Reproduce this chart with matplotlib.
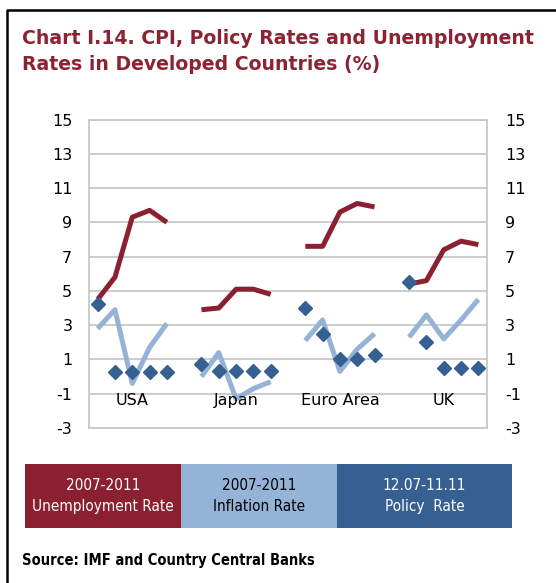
import numpy as np
import matplotlib.pyplot as plt
from matplotlib.patches import Rectangle
from matplotlib.lines import Line2D

plt.rcParams['axes.unicode_minus'] = False

# values, 5 points per country
countries = ['USA', 'Japan', 'Euro Area', 'UK']
unemployment = [
    [4.5, 5.8, 9.3, 9.7, 9.0],    # USA
    [3.9, 4.0, 5.1, 5.1, 4.8],    # Japan
    [7.6, 7.6, 9.6, 10.1, 9.9],   # Euro Area
    [5.4, 5.6, 7.4, 7.9, 7.7],    # UK
]
inflation = [
    [2.8, 3.9, -0.4, 1.7, 3.1],
    [0.0, 1.4, -1.3, -0.7, -0.3],
    [2.1, 3.3, 0.3, 1.6, 2.5],
    [2.3, 3.6, 2.2, 3.3, 4.5],
]
policy = [
    [4.25, 0.25, 0.25, 0.25, 0.25],
    [0.75, 0.3, 0.3, 0.3, 0.3],
    [4.0, 2.5, 1.0, 1.0, 1.25],
    [5.5, 2.0, 0.5, 0.5, 0.5],
]
yticks = [15, 13, 11, 9, 7, 5, 3, 1, -1, -3]
legend_labels = ['2007-2011\nUnemployment Rate', '2007-2011\nInflation Rate', '12.07-11.11\nPolicy  Rate']

red = '#8B2130'
light = '#95B3D7'
dark = '#376092'
title_col = '#8B2332'

W, H = 556, 583
fig = plt.figure(figsize=(W / 100, H / 100), dpi=100)
ax = fig.add_axes([89 / W, 1 - 428 / H, (487 - 89) / W, (428 - 119.5) / H])

for g in range(len(countries)):
    x = g * 6 + np.arange(5)
    ax.plot(x, unemployment[g], color=red, lw=3.6, solid_capstyle='butt', zorder=3)
    ax.plot(x, inflation[g], color=light, lw=3.6, solid_capstyle='butt', zorder=3)
    ax.plot(x, policy[g], ls='none', marker='D', ms=7.5, color=dark, zorder=4)
    ax.text(g * 6 + 2, -1.4, countries[g], ha='center', va='center', fontsize=11.5, color='black')

ax.set_xlim(-0.5, 22.5)
ax.set_ylim(-3, 15)
ax.set_yticks(yticks)
ax.set_xticks([])
ax.grid(axis='y', color='#C8C8C8', lw=1.3)
ax.set_axisbelow(True)
for s in ax.spines.values():
    s.set_color('#C8C8C8')
    s.set_linewidth(1.3)
ax.tick_params(axis='y', length=0, labelsize=11.5, pad=12)

# right-hand axis, same scale
ax2 = ax.twinx()
ax2.set_ylim(ax.get_ylim())
ax2.set_yticks(yticks)
ax2.tick_params(axis='y', length=0, labelsize=11.5, pad=13)
for s in ax2.spines.values():
    s.set_visible(False)

# title
fig.text(22 / W, 1 - 39 / H, 'Chart I.14. CPI, Policy Rates and Unemployment', fontsize=13.6,
         fontweight='bold', color=title_col, va='center', ha='left')
fig.text(22 / W, 1 - 64 / H, 'Rates in Developed Countries (%)', fontsize=13.6,
         fontweight='bold', color=title_col, va='center', ha='left')

# legend boxes
box_x = [25, 181, 337, 512]
box_cols = [red, light, dark]
text_cols = ['white', 'black', 'white']
for i in range(3):
    fig.patches.append(Rectangle((box_x[i] / W, 1 - 528 / H), (box_x[i + 1] - box_x[i]) / W, 64 / H,
                                 transform=fig.transFigure, facecolor=box_cols[i], edgecolor='none'))
    fig.text((box_x[i] + box_x[i + 1]) / 2 / W, 1 - 496 / H, legend_labels[i], ha='center', va='center',
             fontsize=11, color=text_cols[i], linespacing=1.5, fontstretch='condensed')

fig.text(22 / W, 1 - 560 / H, 'Source: IMF and Country Central Banks', fontsize=10.5, fontweight='bold',
         color='black', va='center', ha='left', fontstretch='condensed')

# outer frame (left and top only)
fig.lines.append(Line2D([6.5 / W, 6.5 / W, 1], [0, 1 - 10 / H, 1 - 10 / H], transform=fig.transFigure,
                        color='black', lw=1.8))

fig.savefig('out.png', dpi=100)
